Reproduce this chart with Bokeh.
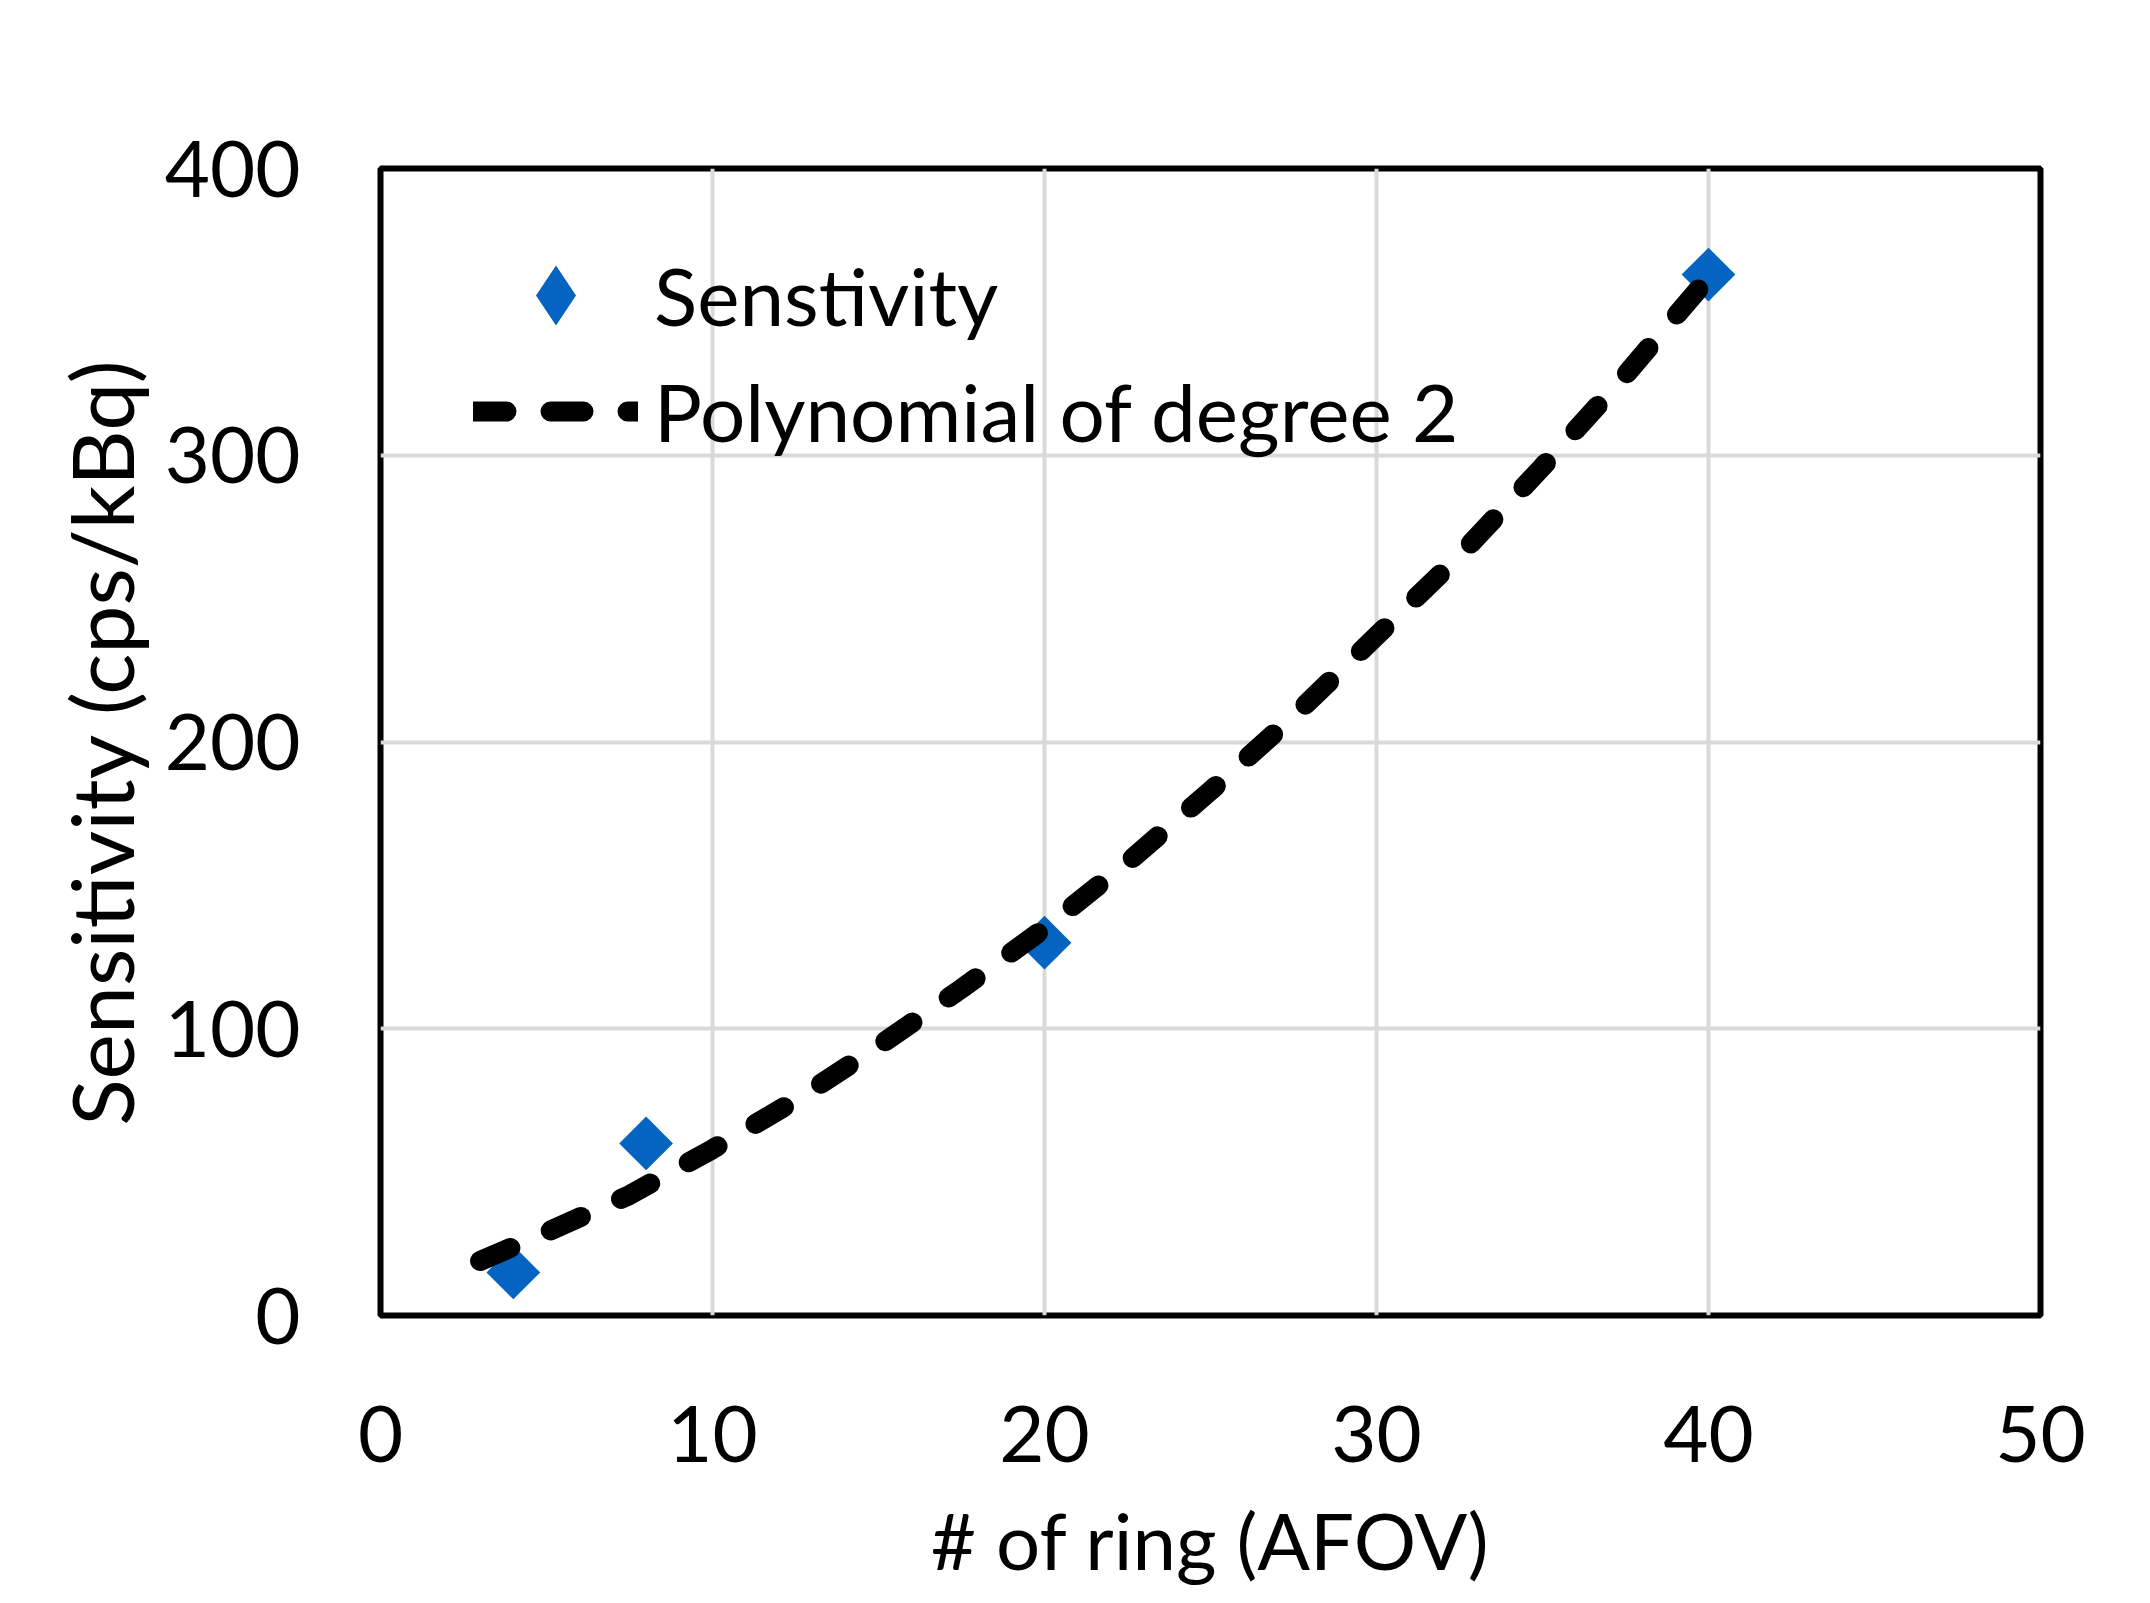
import numpy as np
from bokeh.plotting import figure
from bokeh.models import Range1d, FixedTicker, Legend, LegendItem
from bokeh.embed import file_html
from bokeh.resources import INLINE

# ---- data ----
rings = [4, 8, 20, 40]
sensitivity = [15, 60, 130, 363]

fit_x = [3, 5, 7.5, 10, 12.5, 15, 17.5, 20, 22.5, 25, 27.5, 30, 32.5, 35, 37.5, 40]
fit_y = [19, 29, 42, 58, 75, 94, 114, 135, 158, 183, 209, 237, 265, 296, 328, 362]

x_ticks = [0, 10, 20, 30, 40, 50]
y_ticks = [0, 100, 200, 300, 400]

FONT = "Lato"
BLUE = "#0563C1"

p = figure(width=2150, height=1603,
           x_range=Range1d(0, 50), y_range=Range1d(0, 400),
           output_backend="svg", toolbar_location=None,
           min_border_left=380, min_border_right=110,
           min_border_top=168, min_border_bottom=288)
p.title.visible = False
p.background_fill_color = "white"
p.border_fill_color = "white"
p.outline_line_color = "black"
p.outline_line_width = 6

for ax, ticks in ((p.xaxis, x_ticks), (p.yaxis, y_ticks)):
    ax.ticker = FixedTicker(ticks=ticks)
    ax.axis_line_color = None
    ax.major_tick_line_color = None
    ax.minor_tick_line_color = None
    ax.major_tick_out = 0
    ax.major_tick_in = 0
    ax.major_label_text_font = FONT
    ax.major_label_text_font_size = "78px"
    ax.major_label_text_color = "black"
    ax.axis_label_text_font = FONT
    ax.axis_label_text_font_style = "normal"
    ax.axis_label_text_color = "black"

p.xaxis.axis_label = "# of ring (AFOV)"
p.yaxis.axis_label = "Sensitivity (cps/kBq)"
p.xaxis.axis_label_text_font_size = "78px"
p.yaxis.axis_label_text_font_size = "86px"
p.xaxis.major_label_standoff = 90
p.xaxis.axis_label_standoff = 28
p.yaxis.major_label_standoff = 80
p.yaxis.axis_label_standoff = 10

p.xgrid.ticker = FixedTicker(ticks=x_ticks)
p.ygrid.ticker = FixedTicker(ticks=y_ticks)
p.grid.grid_line_color = "#d9d9d9"
p.grid.grid_line_width = 4

r_pts = p.scatter(rings, sensitivity, marker="square", size=38, angle=np.pi / 4,
                  fill_color=BLUE, line_color=None)
r_fit = p.line(fit_x, fit_y, line_color="black", line_width=20,
               line_dash="33 44", line_cap="round")
# legend proxy so that the legend symbol is drawn as a diamond
r_key = p.scatter(x=[np.nan], y=[np.nan], marker="diamond",
                  fill_color=BLUE, line_color=None)

common = dict(padding=0, margin=0, border_line_color=None, background_fill_alpha=0,
              glyph_width=165, glyph_height=150, label_height=150,
              label_standoff=16, spacing=0,
              label_text_font=FONT, label_text_font_size="80px",
              label_text_color="black")

legend1 = Legend(items=[LegendItem(label="Senstivity", renderers=[r_key])],
                 location=(93, 945), **common)
legend2 = Legend(items=[LegendItem(label="Polynomial of degree 2", renderers=[r_fit])],
                 location=(93, 829), **common)
p.add_layout(legend1)
p.add_layout(legend2)

open("out.html", "w").write(file_html(p, INLINE))
